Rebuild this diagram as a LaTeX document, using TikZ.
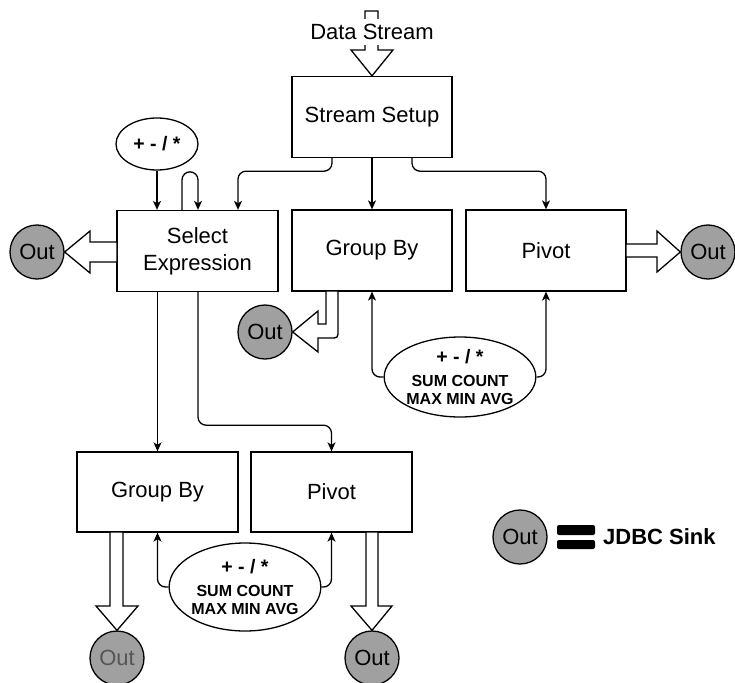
\documentclass[tikz,border=0pt]{standalone}
\usepackage{fontspec}
\setmainfont{Liberation Sans}
\usetikzlibrary{arrows.meta,shapes.geometric,calc}
\definecolor{outgray}{HTML}{A0A0A0}
\definecolor{outtext}{HTML}{555555}
\begin{document}
\begin{tikzpicture}[x=1pt,y=-1pt,
  every node/.style={font=\fontsize{22}{27}\selectfont},
  box/.style={draw, line width=1.3pt, minimum width=160pt, minimum height=81pt, align=center, inner sep=0pt},
  sink/.style={circle, draw, fill=outgray, line width=1.3pt, minimum size=54pt, inner sep=0pt},
  op/.style={ellipse, draw, line width=1.3pt, fill=white, inner sep=0pt, align=center,
    font=\bfseries\fontsize{16}{18}\selectfont},
  conn/.style={line width=1.3pt, -{Stealth[length=9pt,width=8pt,inset=2.5pt]}, rounded corners=8pt},
  fat/.style={draw, fill=white, line width=1.3pt, line join=miter},
]
\useasboundingbox (0,0) rectangle (735,682);

% boxes
\node[box] (setup) at (372,117) {Stream Setup};
\node[box, minimum width=161pt] (sel) at (197.5,251) {Select\\Expression};
\node[box] (gb1) at (372,250.5) {Group By};
\node[box] (pv1) at (546,250.5) {Pivot};
\node[box, minimum width=161pt, minimum height=80pt] (gb2) at (157.5,492) {Group By};
\node[box, minimum width=161pt, minimum height=80pt] (pv2) at (331.5,492) {Pivot};

% operator ellipses
\node[op, minimum width=82pt, minimum height=52pt] (e1) at (157,144) {\fontsize{19.5}{22}\selectfont + - / *};
\node[op, minimum width=136pt, minimum height=80pt] (e2) at (460,377)
  {{\fontsize{19.5}{22}\selectfont + - / *}\\[5pt] SUM COUNT\\ MAX MIN AVG};
\node[op, minimum width=136pt, minimum height=88pt] (e3) at (245,587)
  {{\fontsize{19.5}{22}\selectfont + - / *}\\[5pt] SUM COUNT\\ MAX MIN AVG};

% sinks
\node[sink] (outL) at (37,252) {Out};
\node[sink] (outR) at (708,252) {Out};
\node[sink] (outG) at (265,332) {Out};
\node[sink, text=outtext] (outB1) at (117,658) {Out};
\node[sink] (outB2) at (372,658) {Out};

% data stream input
\draw[fat] (351,50) -- (365,50) -- (365,11) -- (378,11) -- (378,50) -- (393,50) -- (setup.north) -- cycle;
\node[fill=white, inner xsep=1pt, inner ysep=5pt] (ds) at (372,32) {Data Stream};

% block arrows to sinks
\draw[fat] (117,242) -- (90,242) -- (90,231) -- (outL.east) -- (90,273) -- (90,262) -- (117,262) -- cycle;
\draw[fat] (626,244) -- (657,244) -- (657,231) -- (outR.west) -- (657,272) -- (657,257) -- (626,257) -- cycle;
\draw[fat] (326,291) -- (326,324) -- (318,324) -- (318,311) -- (outG.east) -- (318,352) -- (318,338)
  -- (330,338) .. controls (338,338) .. (338,330) -- (338,291) -- cycle;
\draw[fat] (110,532) -- (110,606) -- (96,606) -- (outB1.north) -- (138,606) -- (123,606) -- (123,532) -- cycle;
\draw[fat] (366,532) -- (366,606) -- (351,606) -- (outB2.north) -- (392,606) -- (378,606) -- (378,532) -- cycle;

% connectors
\draw[conn] (e1.south) -- (e1.south |- sel.north);
\draw[conn] ([xshift=-15.5pt]sel.north) -- ++(0,-38) -- ++(16,0) -- ([xshift=0.5pt]sel.north);
\draw[conn] ([xshift=-40pt]setup.south) -- ++(0,13) -| ([xshift=40.5pt]sel.north);
\draw[conn] (setup.south) -- (gb1.north);
\draw[conn] ([xshift=40pt]setup.south) -- ++(0,13) -| (pv1.north);
\draw[conn] (e2.west) -| (gb1.south);
\draw[conn] (e2.east) -| (pv1.south);
\draw[conn] (gb2.north |- sel.south) -- (gb2.north);
\draw[conn] ([xshift=0.5pt]sel.south) -- ++(0,133) -| (pv2.north);
\draw[conn] (e3.west) -| (gb2.south);
\draw[conn] (e3.east) -| (pv2.south);

% legend
\node[sink] (lg) at (520,537) {Out};
\fill[rounded corners=2pt] (557,525) rectangle (595,535);
\fill[rounded corners=2pt] (557,540) rectangle (595,549);
\node[anchor=west, inner sep=0pt, font=\bfseries\fontsize{22}{26}\selectfont] (jdbc) at (603,537) {JDBC Sink};
\end{tikzpicture}
\end{document}
